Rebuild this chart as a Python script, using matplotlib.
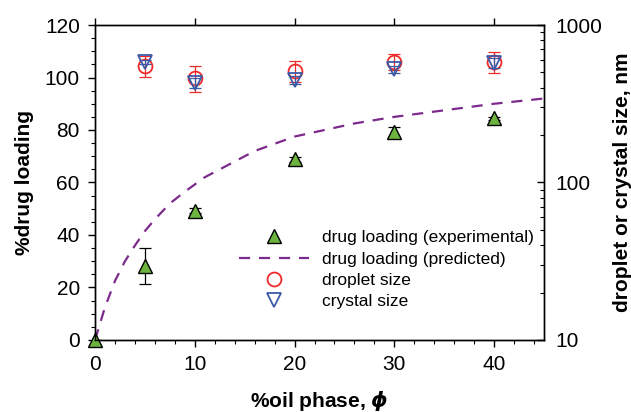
import matplotlib.pyplot as plt
from matplotlib.ticker import MultipleLocator, LogLocator, NullFormatter, FixedFormatter, FixedLocator
import numpy as np

plt.rcParams['font.family'] = ['Liberation Sans', 'DejaVu Sans']

# experimental drug loading (%)
phi_exp = [0, 5, 10, 20, 30, 40]
load_exp = [0, 28.2, 49.3, 68.8, 79.2, 84.4]
load_err = [0, 7.0, 1.0, 1.0, 2.0, 0.5]

# predicted drug loading
phi_pred = [0, 1, 2, 3, 4, 5, 6, 7.5, 9, 11, 13, 16, 20, 23, 26, 30, 35, 40, 45]
load_pred = [0, 12.5, 22.5, 30, 36, 41.5, 46, 52, 56.5, 62, 66, 72, 77.5, 80, 82.5,
             85, 87.5, 90, 92]

# sizes in nm
phi_size = [5, 10, 20, 30, 40]
droplet = [550, 463, 512, 585, 585]
droplet_err = [85, 90, 80, 70, 90]
crystal = [582, 428, 448, 523, 576]
crystal_err = [20, 30, 25, 25, 40]

fig = plt.figure(figsize=(6.31, 4.12), dpi=100)
ax = fig.add_axes([0.1506, 0.1748, 0.7115, 0.7645])
ax2 = ax.twinx()

ax.errorbar(phi_exp, load_exp, yerr=load_err, fmt='none', ecolor='black',
            elinewidth=0.9, capsize=4, capthick=0.9, zorder=3)
ax.plot(phi_exp, load_exp, linestyle='none', marker='^', markersize=10,
        markerfacecolor='#6cb33f', markeredgecolor='black', markeredgewidth=1.0,
        clip_on=False, zorder=4, label='drug loading (experimental)')
ax.plot(phi_pred, load_pred, linestyle=(0, (5, 4)), color='#7d2a8d', linewidth=1.6,
        label='drug loading (predicted)', zorder=2)

ax2.errorbar(phi_size, droplet, yerr=droplet_err, fmt='none', ecolor='#ee2a2a',
             elinewidth=0.9, capsize=4, capthick=0.9)
ax2.plot(phi_size, droplet, linestyle='none', marker='o', markersize=10,
         markerfacecolor='none', markeredgecolor='#ee2a2a', markeredgewidth=1.3,
         label='droplet size')
ax2.errorbar(phi_size, crystal, yerr=crystal_err, fmt='none', ecolor='#3a5aa8',
             elinewidth=0.9, capsize=4, capthick=0.9)
ax2.plot(phi_size, crystal, linestyle='none', marker='v', markersize=10,
         markerfacecolor='none', markeredgecolor='#3a5aa8', markeredgewidth=1.3,
         label='crystal size')

ax.set_xlim(0, 45)
ax.set_ylim(0, 120)
ax2.set_yscale('log')
ax2.set_ylim(10, 1000)

ax.xaxis.set_major_locator(MultipleLocator(10))
ax.xaxis.set_minor_locator(MultipleLocator(2))
ax.yaxis.set_major_locator(MultipleLocator(20))
ax.yaxis.set_minor_locator(MultipleLocator(5))
ax.tick_params(axis='both', which='major', direction='out', length=5, width=1,
               labelsize=15, pad=6)
ax.tick_params(axis='both', which='minor', direction='out', length=3, width=0.8)
ax.tick_params(axis='x', top=True, which='major')
ax.tick_params(axis='x', top=False, which='minor')

ax2.yaxis.set_major_locator(FixedLocator([10, 100, 1000]))
ax2.yaxis.set_major_formatter(FixedFormatter(['10', '100', '1000']))
ax2.yaxis.set_minor_locator(LogLocator(base=10, subs=np.arange(2, 10)))
ax2.yaxis.set_minor_formatter(NullFormatter())
ax2.tick_params(axis='y', which='major', direction='in', length=5, width=1,
                labelsize=15, pad=8)
ax2.tick_params(axis='y', which='minor', direction='in', length=3, width=0.8)

for a in (ax, ax2):
    for s in a.spines.values():
        s.set_linewidth(1.0)

ax.set_xlabel('%oil phase, $\\boldsymbol{\\phi}$', fontsize=15, fontweight='bold', labelpad=10)
ax.set_ylabel('%drug loading', fontsize=15, fontweight='bold', labelpad=8)
ax2.set_ylabel('droplet or crystal size, nm', fontsize=15, fontweight='bold', labelpad=8)

h1, l1 = ax.get_legend_handles_labels()
h2, l2 = ax2.get_legend_handles_labels()
leg = ax2.legend(h1 + h2, l1 + l2, loc='lower right', bbox_to_anchor=(1.0, 0.065),
                 frameon=False, fontsize=12.5, handlelength=4.0, handletextpad=0.75,
                 labelspacing=0.35, borderaxespad=0.2)

fig.savefig('out.png', dpi=100)
